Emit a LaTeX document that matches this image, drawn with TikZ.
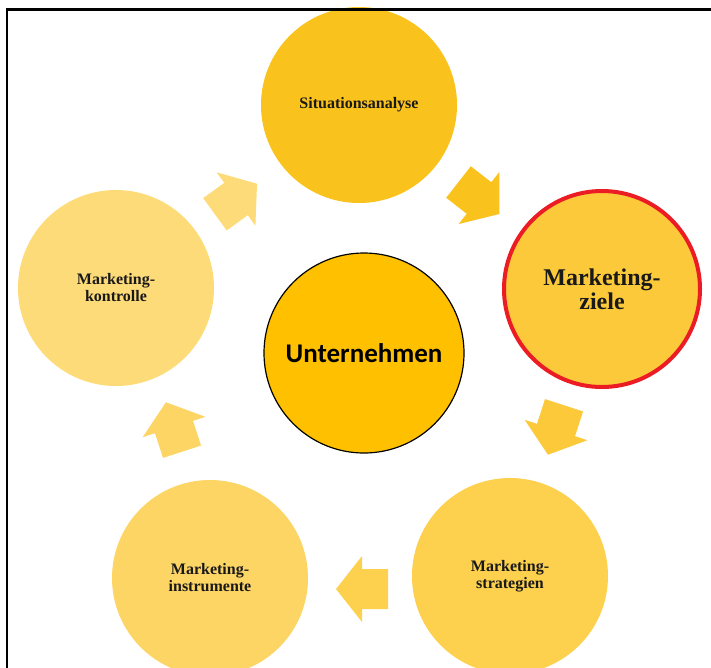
\documentclass[tikz,border=0pt]{standalone}
\usepackage{fontspec}
\setmainfont{Liberation Serif}
\newfontfamily\calibrifont{Carlito}

\definecolor{situgelb}{HTML}{FAC21C}
\definecolor{zielgelb}{HTML}{FCC93A}
\definecolor{strategelb}{HTML}{FDD04E}
\definecolor{instrgelb}{HTML}{FDD565}
\definecolor{kontrgelb}{HTML}{FEDB79}
\definecolor{kerngelb}{HTML}{FFC000}
\definecolor{zielrot}{HTML}{EC1C24}

\tikzset{
  phase/.style={circle, minimum size=196pt, inner sep=0pt, align=center,
    text=black!90, font=\fontsize{16}{17}\selectfont\bfseries},
  pics/blockpfeil/.style={code={
    \fill (26,0) -- (0,33) -- (0,20) -- (-26,20) -- (-26,-20) -- (0,-20) -- (0,-33) -- cycle;
  }}
}

\begin{document}
\begin{tikzpicture}[x=1pt, y=1pt]
\useasboundingbox (0,0) rectangle (711,-667);
\fill[white] (0,0) rectangle (711,-667);

% the five phases
\node[phase, fill=situgelb] (sit) at (359,-105) {Situationsanalyse};
\node[phase, fill=zielgelb, draw=zielrot, line width=4pt, font=\fontsize{24}{24}\selectfont\bfseries] (ziele) at (602,-289) {Marketing-\\ziele};
\node[phase, fill=strategelb] (strat) at (510,-576) {Marketing-\\strategien};
\node[phase, fill=instrgelb] (instr) at (210,-578) {Marketing-\\instrumente};
\node[phase, fill=kontrgelb] (kontr) at (116,-288) {Marketing-\\kontrolle};

% core
\node[circle, minimum size=200pt, inner sep=0pt, fill=kerngelb, draw=black, line width=1.2pt,
  font=\calibrifont\fontsize{27}{27}\selectfont\bfseries] (unt) at (364,-353) {Unternehmen};

% arrows between the phases
\pic[fill=situgelb, rotate=-38] at (479,-198) {blockpfeil};
\pic[fill=zielgelb, rotate=-108] at (556,-430) {blockpfeil};
\pic[fill=strategelb, rotate=180] at (362,-589) {blockpfeil};
\pic[fill=instrgelb, rotate=108] at (174,-427) {blockpfeil};
\pic[fill=kontrgelb, rotate=36] at (236,-199) {blockpfeil};

% frame
\draw[line width=2.5pt] (7,-690) -- (7,-9.5) -- (730,-9.5);
\end{tikzpicture}
\end{document}
